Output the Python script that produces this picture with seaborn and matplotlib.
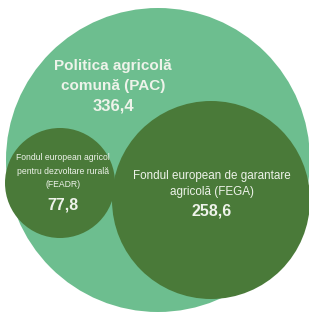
import matplotlib
matplotlib.use("Agg")
import matplotlib.pyplot as plt
from matplotlib.patches import Circle
import seaborn as sns

# Data
labels = ["Politica agricolă\ncomună (PAC)",
          "Fondul european de garantare\nagricolă (FEGA)",
          "Fondul european agricol\npentru dezvoltare rurală\n(FEADR)"]
values = [336.4, 258.6, 77.8]
value_text = ["336,4", "258,6", "77,8"]

# Layout (pixel space)
centers = [(158, 160), (211, 200), (60, 183)]
radii = [152, 99, 55]
colors = ["#6dbe8f", "#4a7a39", "#4a7a39"]

sns.set_theme(style="white")
plt.rcParams['font.family'] = ['Liberation Sans', 'DejaVu Sans']

fig = plt.figure(figsize=(3.09, 3.13), dpi=100)
ax = fig.add_axes([0, 0, 1, 1])
ax.set_xlim(0, 309)
ax.set_ylim(313, 0)
ax.set_aspect('equal')
ax.axis('off')

for (cx, cy), r, c in zip(centers, radii, colors):
    ax.add_patch(Circle((cx, cy), r, facecolor=c, edgecolor='none'))

txtc = "#eef3ea"
# PAC
ax.text(113, 76, labels[0], ha='center', va='center', fontsize=11,
        fontweight='bold', color=txtc, linespacing=1.5)
ax.text(113, 106, value_text[0], ha='center', va='center', fontsize=12,
        fontweight='bold', color=txtc)
# FEGA
ax.text(212, 184, labels[1], ha='center', va='center', fontsize=8.4,
        color=txtc, linespacing=1.55)
ax.text(212, 211, value_text[1], ha='center', va='center', fontsize=11.5,
        fontweight='bold', color=txtc)
# FEADR
ax.text(63, 171, labels[2], ha='center', va='center', fontsize=6.2,
        color=txtc, linespacing=1.65)
ax.text(63, 205, value_text[2], ha='center', va='center', fontsize=11.5,
        fontweight='bold', color=txtc)

fig.savefig("out.png", dpi=100)
